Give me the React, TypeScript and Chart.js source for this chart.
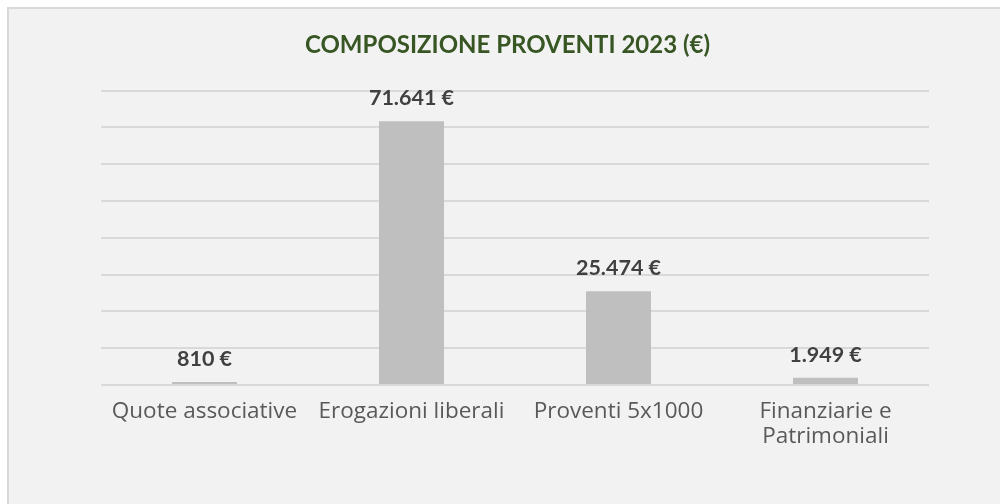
import React, { useEffect, useRef } from "react";
import { Chart, registerables } from "chart.js";

Chart.register(...registerables);

const categories = ["Quote associative", "Erogazioni liberali", "Proventi 5x1000", "Finanziarie e Patrimoniali"];
const tickLabels: (string | string[])[] = ["Quote associative", "Erogazioni liberali", "Proventi 5x1000", ["Finanziarie e", "Patrimoniali"]];
const proventi = [810, 71641, 25474, 1949];
const yMin = 0;
const yMax = 80000;
const yStep = 10000;
const titleText = "COMPOSIZIONE PROVENTI 2023 (€)";

function fmt(v: number): string {
  return String(Math.round(v)).replace(/\B(?=(\d{3})+(?!\d))/g, ".") + " €";
}

const valueLabels = {
  id: "valueLabels",
  afterDatasetsDraw(chart: any) {
    const ctx = chart.ctx;
    const meta = chart.getDatasetMeta(0);
    const data = chart.data.datasets[0].data as number[];
    ctx.save();
    ctx.font = "bold 21.5px Lato";
    ctx.fillStyle = "#404040";
    ctx.textAlign = "center";
    ctx.textBaseline = "alphabetic";
    meta.data.forEach((bar: any, i: number) => {
      ctx.fillText(fmt(data[i]), bar.x, bar.y - 16);
    });
    ctx.restore();
  },
};

const chartTitle = {
  id: "chartTitle",
  afterDraw(chart: any) {
    const ctx = chart.ctx;
    ctx.save();
    ctx.font = "bold 24px Lato";
    ctx.fillStyle = "#375623";
    ctx.textAlign = "center";
    ctx.textBaseline = "middle";
    ctx.fillText(titleText, 498.5, 36);
    ctx.restore();
  },
};

export default function App() {
  const ref = useRef<HTMLCanvasElement>(null);
  useEffect(() => {
    if (!ref.current) return;
    const chart = new Chart(ref.current, {
      type: "bar",
      data: {
        labels: categories,
        datasets: [
          {
            label: "Proventi",
            data: proventi,
            backgroundColor: "#bfbfbf",
            borderWidth: 0,
            barPercentage: 0.314,
            categoryPercentage: 1,
          },
        ],
      },
      options: {
        animation: false,
        responsive: true,
        maintainAspectRatio: false,
        layout: { padding: { left: 92, right: 77, top: 81.5, bottom: 41 } },
        plugins: {
          legend: { display: false },
          tooltip: { enabled: false },
          title: { display: false },
        },
        scales: {
          x: {
            grid: { display: false, drawTicks: false },
            border: { display: false },
            ticks: {
              padding: 14,
              color: "#595959",
              font: { family: "Open Sans", size: 22.5, lineHeight: 1.11 },
              maxRotation: 0,
              autoSkip: false,
              callback: (_v: any, i: number) => tickLabels[i],
            },
          },
          y: {
            min: yMin,
            max: yMax,
            grid: { color: "#d9d9d9", lineWidth: 2, drawTicks: false },
            border: { display: false },
            ticks: { display: false, stepSize: yStep },
          },
        },
      },
      plugins: [valueLabels, chartTitle],
    });
    return () => chart.destroy();
  }, []);

  return (
    <div
      style={{
        position: "fixed",
        left: 7,
        top: 7,
        right: 0,
        bottom: 0,
        borderLeft: "2px solid #d9d9d9",
        borderTop: "2px solid #d9d9d9",
        background: "#f2f2f2",
        overflow: "hidden",
      }}
    >
      <div style={{ position: "relative", width: 997, height: 495 }}>
        <canvas ref={ref} />
      </div>
    </div>
  );
}
